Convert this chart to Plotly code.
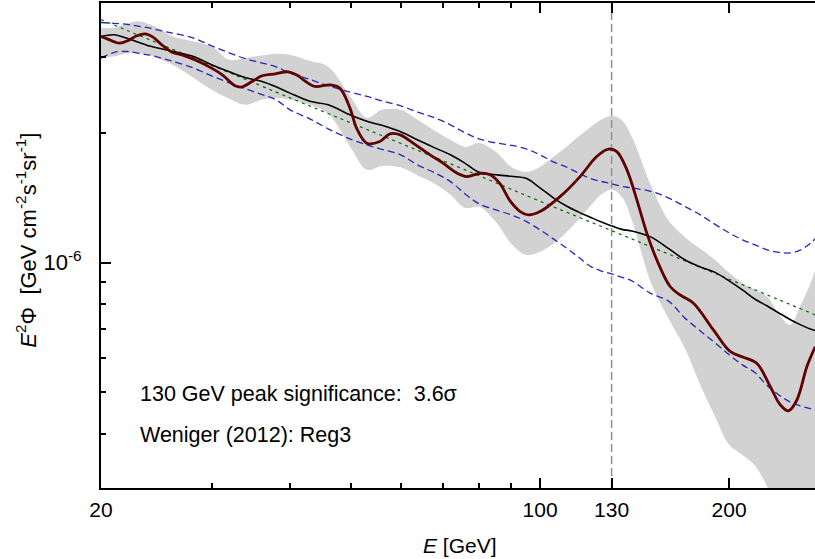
import math
import plotly.graph_objects as go

# ---------------- data (flux values in units of 1e-6 GeV cm^-2 s^-1 sr^-1) ----------------
UNIT = 1e-6
PEAK_E = 130  # GeV, vertical marker

E_GRID = [20, 21, 22, 23, 24, 25, 26, 28, 30, 32, 34, 36, 38, 40, 43, 46, 50, 53, 56, 60,
          64, 68, 72, 76, 80, 85, 90, 95, 100, 105, 110, 115, 120, 125, 130, 135, 140, 150,
          160, 170, 180, 190, 200, 210, 220, 230, 240, 250, 260, 270, 275]

BAND_HI = [3.504, 3.504, 3.589, 3.628, 3.560, 3.457, 3.345, 3.260, 3.174, 2.953, 2.985, 3.020,
           3.049, 3.034, 2.937, 2.845, 2.411, 2.166, 2.261, 2.261, 2.138, 2.021, 1.926, 1.855,
           1.893, 1.807, 1.667, 1.623, 1.667, 1.759, 1.855, 1.957, 2.054, 2.143, 2.190, 2.138,
           1.957, 1.515, 1.256, 1.147, 1.076, 1.014, 0.947, 0.897, 0.864, 0.833, 0.760, 0.717,
           0.798, 0.902, 0.972]

BAND_LO = [3.001, 3.006, 3.057, 3.060, 3.025, 2.953, 2.876, 2.690, 2.516, 2.398, 2.322, 2.385,
           2.407, 2.385, 2.322, 2.213, 1.845, 1.641, 1.676, 1.663, 1.589, 1.523, 1.436, 1.339,
           1.347, 1.243, 1.105, 1.042, 1.059, 1.105, 1.172, 1.256, 1.347, 1.436, 1.478, 1.420,
           1.256, 0.902, 0.744, 0.634, 0.520, 0.439, 0.378, 0.358, 0.338, 0.302, 0.267, 0.240,
           0.240, 0.240, 0.240]

BLUE_HI = [3.604, 3.587, 3.570, 3.532, 3.494, 3.448, 3.406, 3.322, 3.182, 3.066, 2.969, 2.906,
           2.845, 2.751, 2.661, 2.570, 2.482, 2.430, 2.372, 2.310, 2.231, 2.166, 2.087, 2.000,
           1.936, 1.895, 1.870, 1.835, 1.778, 1.712, 1.667, 1.615, 1.569, 1.543, 1.523, 1.502,
           1.490, 1.463, 1.413, 1.350, 1.290, 1.226, 1.172, 1.129, 1.099, 1.070, 1.056, 1.053,
           1.070, 1.111, 1.141]

BLUE_LO = [2.980, 3.074, 3.087, 3.057, 3.025, 2.977, 2.930, 2.830, 2.711, 2.612, 2.529, 2.456,
           2.385, 2.261, 2.155, 2.043, 1.931, 1.875, 1.831, 1.778, 1.681, 1.615, 1.541, 1.443,
           1.368, 1.325, 1.290, 1.246, 1.191, 1.135, 1.082, 1.031, 0.982, 0.957, 0.941, 0.924,
           0.907, 0.848, 0.815, 0.744, 0.694, 0.651, 0.611, 0.579, 0.555, 0.518, 0.493, 0.475,
           0.465, 0.458, 0.455]

BLACK_E = [20, 21, 22, 24, 26, 28, 30, 32, 34, 36, 38, 40, 43, 46, 50, 53, 56, 60, 64, 68, 72,
           76, 80, 85, 90, 95, 100, 105, 110, 115, 120, 125, 130, 135, 140, 150, 160, 170, 180,
           190, 200, 210, 220, 230, 240, 250, 260, 270, 275]
BLACK_F = [3.345, 3.376, 3.313, 3.174, 3.090, 3.009, 2.875, 2.770, 2.683, 2.633, 2.557, 2.472,
           2.366, 2.322, 2.195, 2.126, 2.081, 2.010, 1.921, 1.845, 1.778, 1.699, 1.619, 1.598,
           1.585, 1.568, 1.490, 1.413, 1.354, 1.311, 1.276, 1.243, 1.217, 1.194, 1.184, 1.147,
           1.079, 1.015, 0.977, 0.949, 0.907, 0.864, 0.822, 0.793, 0.764, 0.738, 0.717, 0.700,
           0.695]

RED_E = [20, 20.5, 21.4, 22.1, 22.8, 23.5, 24.2, 25.0, 26.0, 26.9, 28.2, 30.0, 31.2, 32.7, 33.5,
         34.8, 36.1, 37.9, 39.7, 41.2, 42.1, 43.8, 46.3, 48.0, 49.8, 51.1, 53.0, 55.6, 57.7, 59.9,
         62.8, 66.8, 70.1, 73.8, 76.5, 80.3, 83.3, 86.4, 89.6, 93.0, 95.8, 100, 107.6, 115.8,
         123.1, 128.5, 132.5, 137.5, 142.6, 147.9, 153.4, 161.1, 167.1, 175.5, 188.8, 200.7,
         210.8, 221.3, 232.5, 241.2, 248.6, 256.4, 266.0, 274.2]
RED_F = [3.345, 3.299, 3.228, 3.274, 3.357, 3.393, 3.334, 3.200, 3.071, 3.033, 2.953, 2.825,
         2.725, 2.570, 2.553, 2.630, 2.712, 2.741, 2.770, 2.712, 2.647, 2.561, 2.584, 2.539,
         2.285, 2.043, 1.892, 1.909, 1.989, 1.978, 1.892, 1.778, 1.701, 1.612, 1.583, 1.611,
         1.598, 1.522, 1.390, 1.313, 1.290, 1.313, 1.422, 1.583, 1.762, 1.833, 1.809, 1.641,
         1.398, 1.170, 1.015, 0.880, 0.841, 0.805, 0.698, 0.622, 0.603, 0.584, 0.516, 0.468,
         0.453, 0.480, 0.574, 0.638]

GREEN_E = [20, 40, 60, 80, 100, 130, 160, 200, 240, 275]
GREEN_F = [3.66, 2.41, 1.89, 1.59, 1.387, 1.186, 1.047, 0.915, 0.820, 0.755]

X_RANGE = [20, 274]
Y_RANGE = [3e-7, 4e-6]
X_TICKS = [20, 100, 130, 200]
X_TICK_TEXT = ["20", "100", "130", "200"]
X_MINOR = [30, 40, 50, 60, 70, 80, 90]
Y_TICKS = [1e-6]
Y_TICK_TEXT = ["10<sup>-6</sup>"]
Y_MINOR = [3e-7, 4e-7, 5e-7, 6e-7, 7e-7, 8e-7, 9e-7, 2e-6, 3e-6]

LABEL_SIG = "130 GeV peak significance:\u00a0\u00a03.6σ"
LABEL_REF = "Weniger (2012): Reg3"


def scaled(vals):
    return [v * UNIT for v in vals]


FONT = "Liberation Sans, Arial, Helvetica, sans-serif"

fig = go.Figure()

fig.add_trace(go.Scatter(x=E_GRID, y=scaled(BAND_LO), mode="lines",
                         line=dict(width=0, shape="spline", color="rgb(208,208,208)"),
                         showlegend=False, hoverinfo="skip"))
fig.add_trace(go.Scatter(x=E_GRID, y=scaled(BAND_HI), mode="lines",
                         line=dict(width=0, shape="spline", color="rgb(208,208,208)"),
                         fill="tonexty", fillcolor="rgb(210,210,210)",
                         showlegend=False, hoverinfo="skip"))

fig.add_trace(go.Scatter(x=[PEAK_E, PEAK_E], y=Y_RANGE, mode="lines",
                         line=dict(color="rgb(145,145,145)", width=1.5, dash="8px,4px"),
                         showlegend=False))

fig.add_trace(go.Scatter(x=GREEN_E, y=scaled(GREEN_F), mode="lines",
                         line=dict(color="rgb(0,110,0)", width=1.2, dash="3px,4px", shape="spline"),
                         showlegend=False))

for series in (BLUE_HI, BLUE_LO):
    fig.add_trace(go.Scatter(x=E_GRID, y=scaled(series), mode="lines",
                             line=dict(color="rgb(40,40,185)", width=1.3, dash="7px,4px",
                                       shape="spline"),
                             showlegend=False))

fig.add_trace(go.Scatter(x=BLACK_E, y=scaled(BLACK_F), mode="lines",
                         line=dict(color="black", width=1.6, shape="spline"),
                         showlegend=False))

fig.add_trace(go.Scatter(x=RED_E, y=scaled(RED_F), mode="lines",
                         line=dict(color="rgb(95,0,0)", width=2.8, shape="spline"),
                         showlegend=False))

fig.update_layout(
    width=815, height=559, autosize=False,
    margin=dict(l=101, r=0, t=3, b=71),
    paper_bgcolor="white", plot_bgcolor="white",
    font=dict(family=FONT, size=21, color="black"),
    showlegend=False,
)

fig.update_xaxes(
    type="log", range=[math.log10(X_RANGE[0]), math.log10(X_RANGE[1])],
    tickvals=X_TICKS, ticktext=X_TICK_TEXT,
    ticks="inside", ticklen=10, tickwidth=1.5, tickcolor="black",
    minor=dict(tickvals=X_MINOR, ticks="inside", ticklen=5, tickwidth=1.5, tickcolor="black",
               showgrid=False),
    showline=True, linewidth=2, linecolor="black", mirror="ticks",
    showgrid=False, zeroline=False,
    tickfont=dict(family=FONT, size=21, color="black"),
    ticklabelstandoff=2,
)

fig.update_yaxes(
    type="log", range=[math.log10(Y_RANGE[0]), math.log10(Y_RANGE[1])],
    tickvals=Y_TICKS, ticktext=Y_TICK_TEXT,
    ticks="inside", ticklen=10, tickwidth=1.5, tickcolor="black",
    minor=dict(tickvals=Y_MINOR, ticks="inside", ticklen=5, tickwidth=1.5, tickcolor="black",
               showgrid=False),
    showline=True, linewidth=2, linecolor="black",
    showgrid=False, zeroline=False,
    tickfont=dict(family=FONT, size=22, color="black"),
    ticklabelstandoff=13,
)

fig.add_annotation(text=LABEL_SIG, xref="paper", yref="paper", x=(138 - 101) / 714,
                   y=(488 - 394) / 485, xanchor="left", yanchor="middle", showarrow=False,
                   font=dict(family=FONT, size=21.5, color="black"))
fig.add_annotation(text=LABEL_REF, xref="paper", yref="paper", x=(138 - 101) / 714,
                   y=(488 - 435) / 485, xanchor="left", yanchor="middle", showarrow=False,
                   font=dict(family=FONT, size=21.5, color="black"))

fig.add_annotation(text="<i>E</i> [GeV]", xref="paper", yref="paper", x=0.503,
                   y=(488 - 545) / 485, xanchor="center", yanchor="middle", showarrow=False,
                   font=dict(family=FONT, size=21, color="black"))
fig.add_annotation(text="<i>E</i><sup>2</sup>Φ\u00a0\u00a0[GeV cm<sup>-2</sup>s<sup>-1</sup>sr<sup>-1</sup>]",
                   xref="paper", yref="paper", x=(26 - 101) / 714, y=0.51,
                   xanchor="center", yanchor="middle", textangle=-90, showarrow=False,
                   font=dict(family=FONT, size=22, color="black"))

POST = """
document.documentElement.style.margin='0';document.documentElement.style.padding='0';
document.body.style.margin='0';document.body.style.padding='0';document.body.style.overflow='hidden';
var gd=document.getElementById('{plot_id}');
Plotly.relayout(gd,{width:815,height:559});
"""

fig.write_html("out.html", config={"responsive": False, "displayModeBar": False},
               post_script=POST)
